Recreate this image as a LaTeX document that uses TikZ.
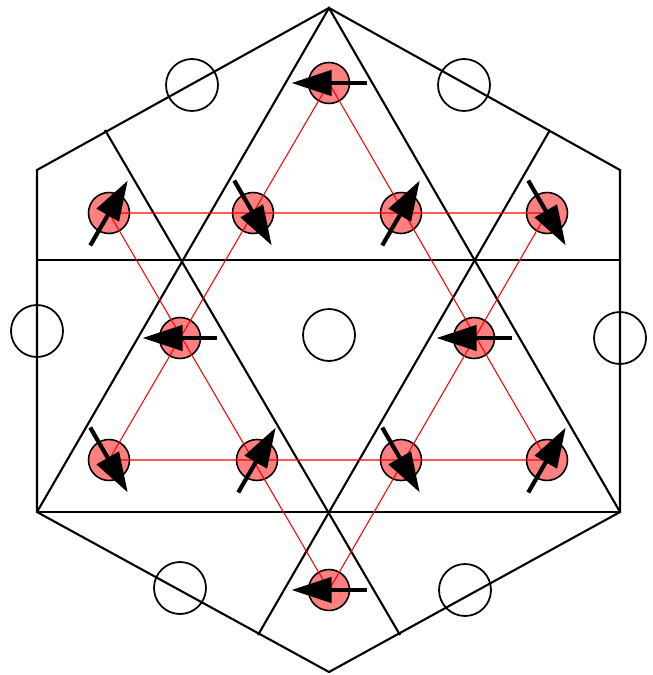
\documentclass[tikz,border=0pt]{standalone}
\usetikzlibrary{arrows.meta}
\begin{document}
\begin{tikzpicture}[x=0.02cm, y=-0.02cm,
        site/.style={circle, draw, line width=0.9pt, fill=red!50, minimum size=0.82cm, inner sep=0pt},
        hole/.style={circle, draw, line width=1pt, minimum size=1.04cm, inner sep=0pt},
        spin/.style={line width=2.4pt, -{Triangle[length=0.8cm, width=0.5cm]}},
        bond/.style={red, line width=0.6pt},
        cell/.style={line width=1.2pt}]
        \useasboundingbox (0,0) rectangle (652,675);
        % hexagon corners
        \coordinate (t) at (329,8);
        \coordinate (ur) at (620,170);
        \coordinate (lr) at (620,512);
        \coordinate (b) at (329,672);
        \coordinate (ll) at (37,512);
        \coordinate (ul) at (37,170);
        \coordinate (ml) at (37,260);
        \coordinate (mr) at (620,260);
        \coordinate (el) at (105,130);
        \coordinate (er) at (550,130);
        \coordinate (fl) at (258,635);
        \coordinate (fr) at (400,635);
        \draw[cell] (t) -- (ur) -- (lr) -- (b) -- (ll) -- (ul) -- cycle;
        \draw[cell] (ml) -- (mr);
        \draw[cell] (ll) -- (lr);
        \draw[cell] (ll) -- (t) -- (lr);
        \draw[cell] (el) -- (fr);
        \draw[cell] (er) -- (fl);
        % empty hexagon centres
        \node[hole] (h1) at (192,85) {};
        \node[hole] (h2) at (464,85) {};
        \node[hole] (h3) at (37,331) {};
        \node[hole] (h4) at (620,338) {};
        \node[hole] (h5) at (329,335) {};
        \node[hole] (h6) at (180,588) {};
        \node[hole] (h7) at (465,590) {};
        % kagome sites
        \node[site] (s1) at (329,83) {};
        \node[site] (s2) at (109,213) {};
        \node[site] (s3) at (253,213) {};
        \node[site] (s4) at (401,213) {};
        \node[site] (s5) at (547,213) {};
        \node[site] (s6) at (180,338) {};
        \node[site] (s7) at (474,338) {};
        \node[site] (s8) at (109,460) {};
        \node[site] (s9) at (257,460) {};
        \node[site] (s10) at (401,460) {};
        \node[site] (s11) at (547,460) {};
        \node[site] (s12) at (329,590) {};
        \draw[bond] (s1.center) -- (s8.center) -- (s11.center) -- cycle;
        \draw[bond] (s2.center) -- (s5.center) -- (s12.center) -- cycle;
        % spins
        \foreach \s/\a in {s1/180, s2/60, s3/-60, s4/60, s5/-60, s6/180,
                s7/180, s8/-60, s9/60, s10/-60, s11/60, s12/180}
            \draw[spin] (\s.center) ++(\a+180:0.75cm) -- ++(\a:1.5cm);
    \end{tikzpicture}
\end{document}
